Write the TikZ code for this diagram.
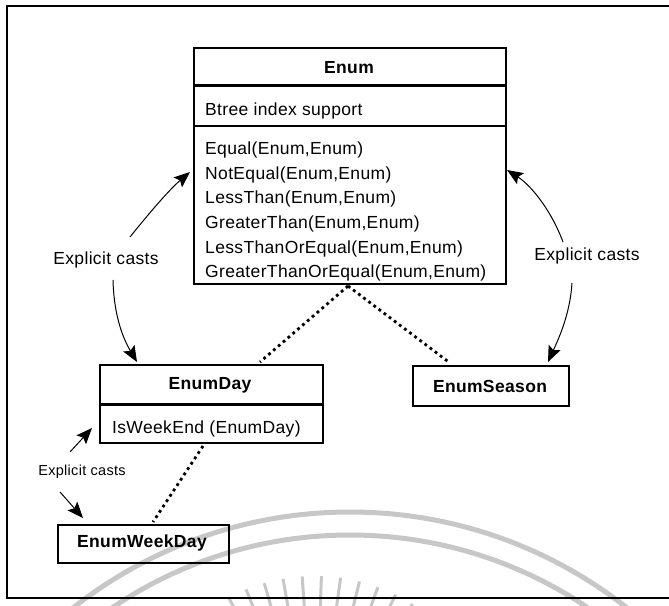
\documentclass[tikz,border=0pt]{standalone}
\usepackage{fontspec}
\setmainfont[LetterSpace=2]{Liberation Sans}
\usetikzlibrary{arrows.meta,calc}

\tikzset{
  umlbox/.style={draw, line width=2.2pt, inner sep=0pt, anchor=north west},
  compsep/.style={line width=3pt},
  txt/.style={inner sep=0pt, font=\fontsize{17.5}{20}\selectfont},
  ttl/.style={inner sep=0pt, font=\fontsize{17.5}{20}\selectfont\bfseries},
  method/.style={txt, anchor=base west},
  castlbl/.style={txt},
  smallcast/.style={inner sep=0pt, font=\fontsize{14.5}{17}\selectfont},
  cast/.style={line width=1pt, -{Stealth[length=16pt,width=13pt,inset=3pt]}},
  dep/.style={line width=2.8pt, dash pattern=on 2.8pt off 3.6pt},
  frame/.style={line width=2pt},
  wmark/.style={draw=black!22, line width=5pt},
  wray/.style={draw=black!22, line width=3pt}
}

\begin{document}
\begin{tikzpicture}[x=1pt,y=-1pt]
  \useasboundingbox (0,0) rectangle (669,605);

  % faint emblem behind the drawing
  \begin{scope}
    \clip (0,0) rectangle (669,605);
    \draw[wmark] (350,960) circle (448);
    \draw[wmark] (350,960) circle (425);
    \foreach \a in {58,64,...,122}
      \draw[wray] ($(315,760)+({184*cos(\a)},{-184*sin(\a)})$) -- ($(315,760)+({150*cos(\a)},{-150*sin(\a)})$);
  \end{scope}

  % outer frame (open on the right)
  \draw[frame] (670,6) -- (7,6) -- (7,598) -- (670,598);

  % ---- Enum class ----
  \node[umlbox, minimum width=312pt, minimum height=236pt] (enum) at (193,47) {};
  \draw[compsep] ($(enum.north west)+(0,38)$) -- ($(enum.north east)+(0,38)$);
  \draw[line width=2pt] ($(enum.north west)+(0,79)$) -- ($(enum.north east)+(0,79)$);
  \node[ttl] (enumT) at (349,68) {Enum};
  \node[method] (btree) at (205,115) {Btree index support};
  \node[method] (m1) at (205,154) {Equal(Enum,Enum)};
  \node[method] (m2) at (205,179) {NotEqual(Enum,Enum)};
  \node[method] (m3) at (205,203) {LessThan(Enum,Enum)};
  \node[method] (m4) at (205,228) {GreaterThan(Enum,Enum)};
  \node[method] (m5) at (205,253) {LessThanOrEqual(Enum,Enum)};
  \node[method] (m6) at (205,277) {GreaterThanOrEqual(Enum,Enum)};

  % ---- EnumDay class ----
  \node[umlbox, minimum width=223pt, minimum height=78pt] (eday) at (99,364) {};
  \draw[compsep] ($(eday.north west)+(0,40)$) -- ($(eday.north east)+(0,40)$);
  \node[ttl] (edayT) at (210,385) {EnumDay};
  \node[method] (isweek) at (112,433) {IsWeekEnd (EnumDay)};

  % ---- EnumSeason ----
  \node[umlbox, minimum width=156pt, minimum height=40pt] (eseason) at (412,365) {};
  \node[ttl] (eseasonT) at (490,386) {EnumSeason};

  % ---- EnumWeekDay ----
  \node[umlbox, minimum width=171pt, minimum height=38pt] (eweek) at (57,524) {};
  \node[ttl] (eweekT) at (142,543) {EnumWeekDay};

  % ---- dependency (dotted) lines ----
  \coordinate (enumBot) at (348,286);
  \coordinate (edayTop) at (260,362);
  \coordinate (seasonTop) at (450,363);
  \coordinate (edayBot) at (203,446);
  \coordinate (weekTop) at (153,522);
  \draw[dep] (enumBot) -- (edayTop);
  \draw[dep] (enumBot) -- (seasonTop);
  \draw[dep] (edayBot) -- (weekTop);

  % ---- explicit casts ----
  \node[castlbl] (castL) at (106,260) {Explicit casts};
  \node[castlbl] (castR) at (587,256) {Explicit casts};
  \node[smallcast] (castS) at (82,472) {Explicit casts};

  \coordinate (cLa) at (130,237);
  \coordinate (cLaEnd) at (190,172);
  \coordinate (cLb) at (113,280);
  \coordinate (cLbEnd) at (137,362);
  \draw[cast] (cLa) .. controls (150,212) and (170,189) .. (cLaEnd);
  \draw[cast] (cLb) .. controls (114,318) and (124,340) .. (cLbEnd);

  \coordinate (cRa) at (563,242);
  \coordinate (cRaEnd) at (507,170);
  \coordinate (cRb) at (572,283);
  \coordinate (cRbEnd) at (548,362);
  \draw[cast] (cRa) .. controls (552,212) and (532,186) .. (cRaEnd);
  \draw[cast] (cRb) .. controls (570,315) and (558,340) .. (cRbEnd);

  \coordinate (cSa) at (70,452);
  \coordinate (cSaEnd) at (92,428);
  \coordinate (cSb) at (60,492);
  \coordinate (cSbEnd) at (83,518);
  \draw[cast] (cSa) -- (cSaEnd);
  \draw[cast] (cSb) -- (cSbEnd);
\end{tikzpicture}
\end{document}
